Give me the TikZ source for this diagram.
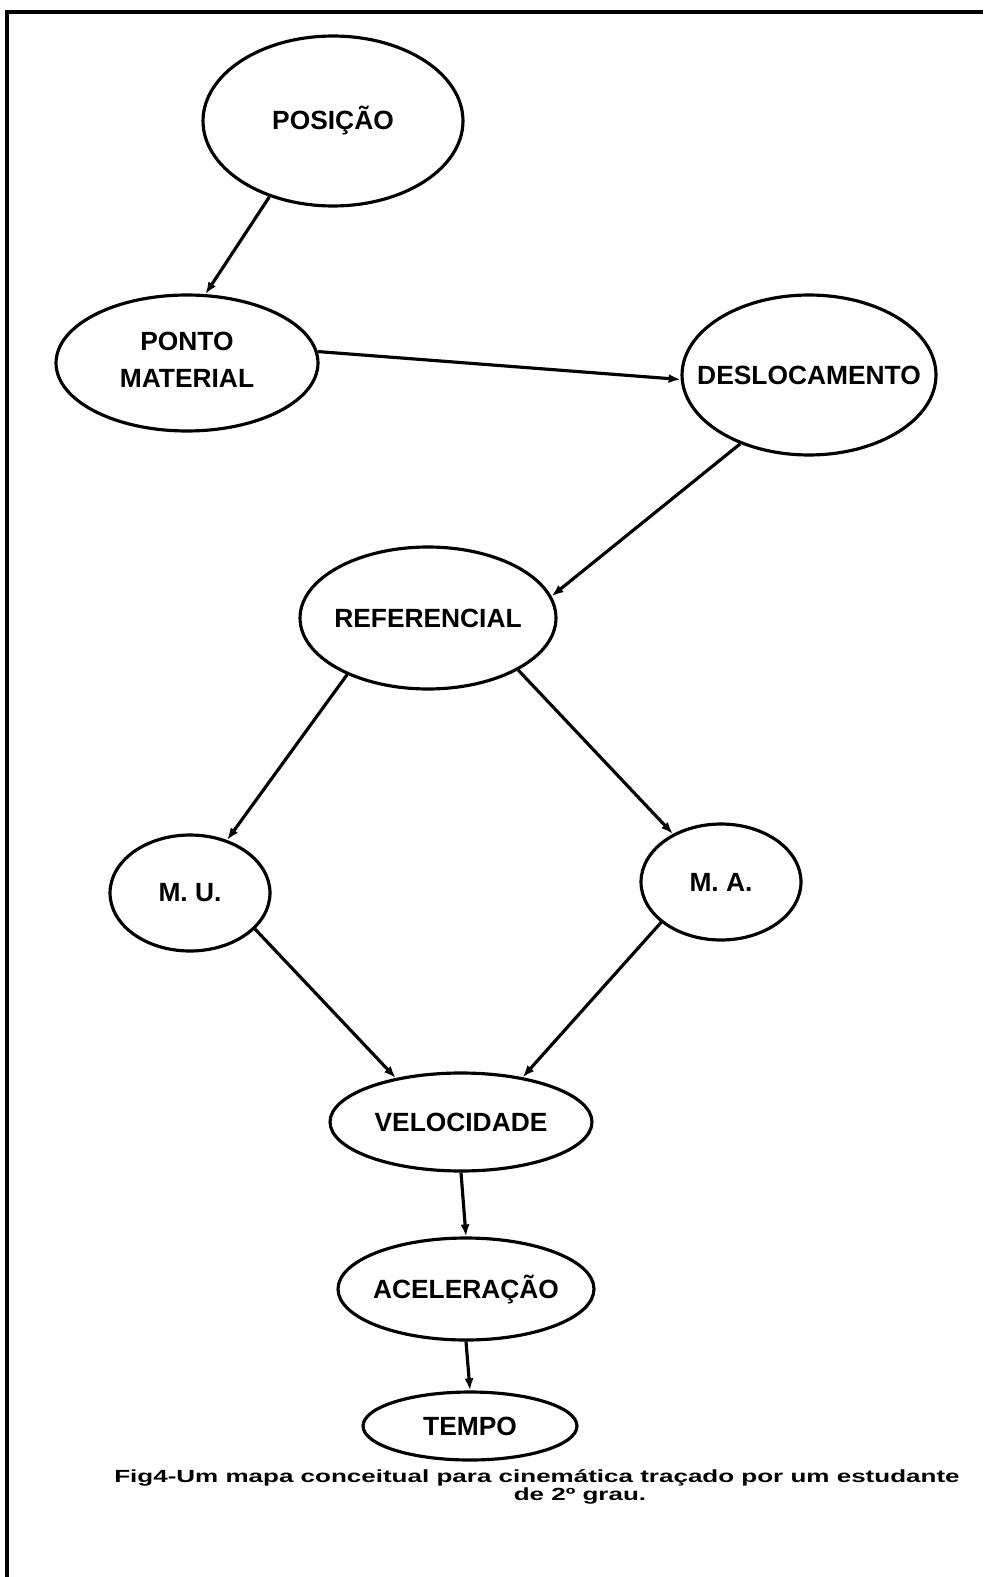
\documentclass[tikz,border=0pt]{standalone}
\usepackage{graphicx}
\usepackage{fontspec}
\setmainfont{Liberation Sans}
\usetikzlibrary{shapes.geometric,arrows.meta}
\newcommand{\lbl}[1]{\makebox[0pt]{#1}}
\begin{document}
\begin{tikzpicture}
    [x=0.02cm,y=-0.02cm,line width=1.8pt,
     every node/.style={ellipse,draw,inner sep=0pt,font=\fontsize{15}{18}\selectfont\bfseries},
     conc/.style args={#1x#2}{minimum width=#1cm,minimum height=#2cm},
     legenda/.style={draw=none,rectangle,font=\fontsize{10}{12}\selectfont\bfseries}]
    \useasboundingbox (0,0) rectangle (983,1577);
    \draw[line width=2.2pt] (7,1577) -- (7,12) -- (983,12);
    \node[conc=5.2x3.4] (posicao) at (333,121) {\lbl{POSIÇÃO}};
    \node[conc=5.24x2.72] (ponto) at (187,363) {\lbl{\begin{tabular}{@{}c@{}}PONTO\\[3pt]MATERIAL\end{tabular}}};
    \node[conc=5.08x3.2] (desloc) at (809,375) {\lbl{DESLOCAMENTO}};
    \node[conc=5.12x2.84] (refer) at (428,618) {\lbl{REFERENCIAL}};
    \node[conc=3.2x2.32] (mu) at (190,893) {\lbl{M. U.}};
    \node[conc=3.2x2.32] (ma) at (721,882) {\lbl{M. A.}};
    \node[conc=5.24x1.96] (vel) at (461,1122) {\lbl{VELOCIDADE}};
    \node[conc=5.12x2.04] (acel) at (466,1289) {\lbl{ACELERAÇÃO}};
    \node[conc=4.28x1.36] (tempo) at (470,1426) {\lbl{TEMPO}};
    \node[legenda] (leg1) at (537,1478) {\scalebox{1.48}[1]{Fig4-Um mapa conceitual para cinemática traçado por um estudante}};
    \node[legenda] (leg2) at (580,1496) {\scalebox{1.48}[1]{de 2º grau.}};
    \foreach \from/\to in {posicao.230/ponto.75, ponto.5/desloc.182, desloc.225/refer.10,
                           refer.215/mu.55, refer.330/ma.135, mu.331/vel.146, ma.214/vel.36,
                           vel.south/acel.north, acel.south/tempo.north}
      \draw[-{Latex[length=2.4mm,width=1.8mm]}] (\from) -- (\to);
\end{tikzpicture}
\end{document}
